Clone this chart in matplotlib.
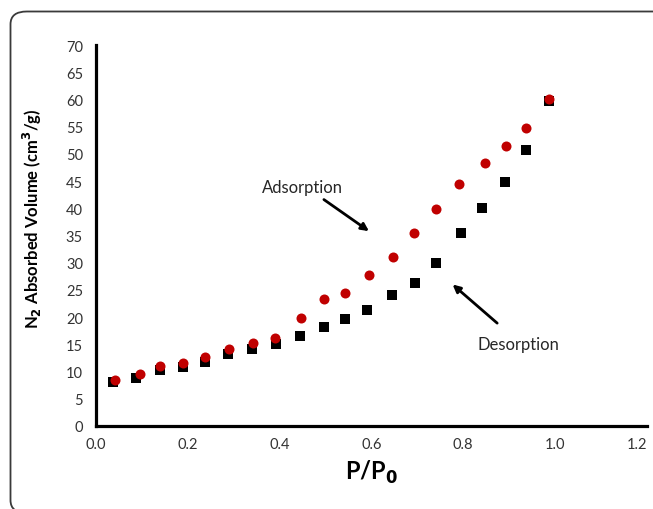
import matplotlib.pyplot as plt
from matplotlib.patches import FancyBboxPatch

# N2 isotherm
p_ads = [0.043, 0.096, 0.141, 0.190, 0.238, 0.291, 0.342, 0.391, 0.447, 0.497,
         0.543, 0.595, 0.647, 0.694, 0.741, 0.792, 0.848, 0.894, 0.937, 0.986]
v_ads = [8.4, 9.6, 11.0, 11.6, 12.6, 14.2, 15.3, 16.1, 19.8, 23.4,
         24.4, 27.8, 31.1, 35.5, 39.8, 44.4, 48.4, 51.5, 54.8, 60.0]

p_des = [0.037, 0.089, 0.141, 0.190, 0.238, 0.289, 0.340, 0.392, 0.445, 0.498,
         0.542, 0.590, 0.645, 0.695, 0.741, 0.795, 0.840, 0.892, 0.937, 0.986]
v_des = [8.0, 8.8, 10.3, 10.9, 11.8, 13.3, 14.1, 15.0, 16.5, 18.1,
         19.7, 21.3, 24.1, 26.3, 30.0, 35.5, 40.1, 44.8, 50.8, 59.8]

x_ticks = [0.0, 0.2, 0.4, 0.6, 0.8, 1.0, 1.2]
y_ticks = list(range(0, 75, 5))

plt.rcParams['font.family'] = ['Lato', 'DejaVu Sans']

W, H = 653, 510
fig = plt.figure(figsize=(W / 100, H / 100), dpi=100)

# rounded frame around the chart (runs off right and bottom edges)
frame = FancyBboxPatch((10.5 / W, -4 / H), 700 / W, (H - 12.5 + 4) / H,
                       boxstyle="round,pad=0,rounding_size=0.025",
                       transform=fig.transFigure, fill=False,
                       edgecolor='#3a3a3a', linewidth=1.3, clip_on=False)
fig.patches.append(frame)

ax = fig.add_axes([95.5 / W, (H - 427) / H, (647 - 95.5) / W, (427 - 46) / H])

ax.scatter(p_des, v_des, marker='s', s=50, color='black', zorder=3, linewidths=0)
ax.scatter(p_ads, v_ads, marker='o', s=52, color='#C00000', zorder=4, linewidths=0)

ax.set_xlim(0, 1.2)
ax.set_ylim(0, 70)
ax.set_xticks(x_ticks)
ax.set_xticklabels(['%.1f' % t for t in x_ticks])
ax.set_yticks(y_ticks)
ax.tick_params(length=0, labelsize=10.5, labelcolor='#333333')
ax.tick_params(axis='y', pad=9)
ax.tick_params(axis='x', pad=8)
ax.get_xticklabels()[-1].set_horizontalalignment('right')

for s in ['top', 'right']:
    ax.spines[s].set_visible(False)
for s in ['left', 'bottom']:
    ax.spines[s].set_linewidth(2.3)
    ax.spines[s].set_color('black')

fig.text(32 / W, 1 - 219 / H, r'N$_\mathbf{2}$ Absorbed Volume (cm$^\mathbf{3}$/g)',
         rotation=90, ha='center', va='center', fontsize=12, fontweight='bold')
fig.text(372 / W, 1 - 472 / H, r'P/P$_\mathbf{0}$', ha='center', va='center',
         fontsize=17, fontweight='bold')

arrow = dict(arrowstyle='-|>', lw=2.0, color='black', mutation_scale=11,
             shrinkA=0, shrinkB=0)
ax.text(0.45, 43.9, 'Adsorption', ha='center', va='center', fontsize=12, color='#262626')
ax.annotate('', xy=(0.595, 35.8), xytext=(0.497, 41.6), arrowprops=arrow)
ax.text(0.92, 15.0, 'Desorption', ha='center', va='center', fontsize=12, color='#262626')
ax.annotate('', xy=(0.777, 26.0), xytext=(0.874, 18.9), arrowprops=arrow)

fig.savefig('out.png', dpi=100)
